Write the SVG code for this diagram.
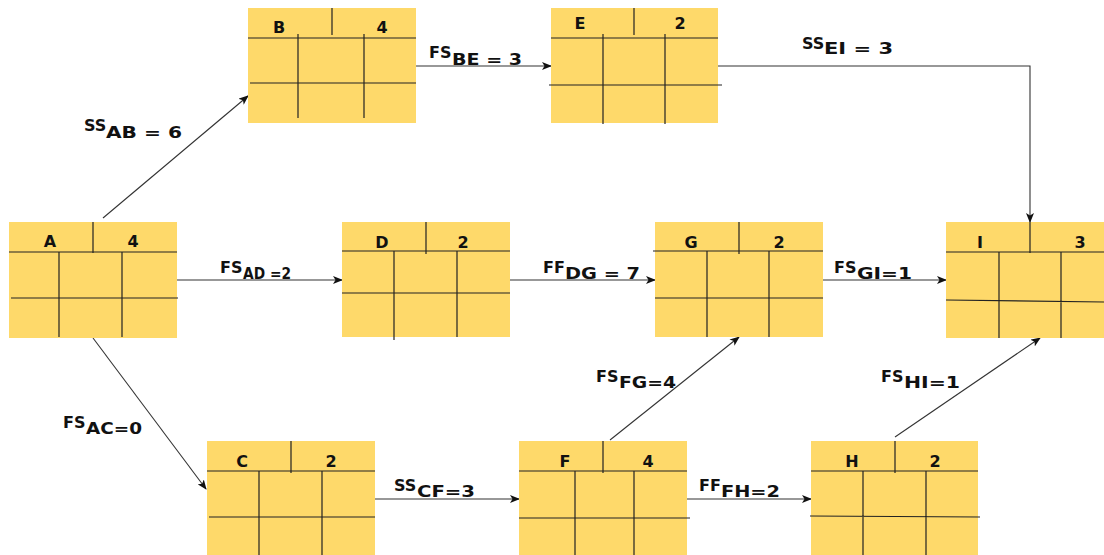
<svg xmlns="http://www.w3.org/2000/svg" width="1104" height="555" viewBox="0 0 1104 555">
<style>
.box{fill:#FED96A;stroke:none}
.g{stroke:#222;stroke-width:1.2;fill:none}
.t{font-family:"DejaVu Sans",Verdana,sans-serif;font-weight:bold;font-size:16px;fill:#111;text-anchor:middle}
.l{font-family:"DejaVu Sans",Verdana,sans-serif;font-weight:bold;font-size:16px;fill:#111}
.c{stroke:#333;stroke-width:1.1;fill:none;marker-end:url(#ah)}
</style>
<defs>
<marker id="ah" markerWidth="10" markerHeight="8" refX="9" refY="4" orient="auto" markerUnits="userSpaceOnUse">
<path d="M0,0 L10,4 L0,8 L2.5,4 Z" fill="#111"/>
</marker>
</defs>
<rect width="1104" height="555" fill="#fff"/>
<g id="connectors">
<path class="c" d="M103,218 L248,96"/>
<path class="c" d="M177,280 L342,280"/>
<path class="c" d="M93,338 L206,489"/>
<path class="c" d="M416,66 L551,66"/>
<path class="c" d="M718,66 L1030,66 L1030,222"/>
<path class="c" d="M510,280 L655,280"/>
<path class="c" d="M823,280 L946,280"/>
<path class="c" d="M375,499 L519,499"/>
<path class="c" d="M687,499 L811,499"/>
<path class="c" d="M610,440 L739,337"/>
<path class="c" d="M895,437 L1040,338"/>
</g>
<g id="nodeA">
<rect class="box" x="9" y="222" width="168" height="116"/>
<path class="g" d="M9,252 H177 M93,222 V253 M11,298 H178 M59,252 V337 M122,252 V337"/>
<text class="t" x="50" y="247">A</text><text class="t" x="133" y="247">4</text>
</g>
<g id="nodeB">
<rect class="box" x="248" y="8" width="168" height="115"/>
<path class="g" d="M248,38 H416 M332,8 V35 M250,83 H416 M298,34 V118 M364,34 V118"/>
<text class="t" x="279" y="33">B</text><text class="t" x="382" y="33">4</text>
</g>
<g id="nodeE">
<rect class="box" x="551" y="8" width="167" height="115"/>
<path class="g" d="M551,38 H718 M634,8 V35 M549,85 H722 M603,34 V124 M665,34 V124"/>
<text class="t" x="580" y="29">E</text><text class="t" x="680" y="29">2</text>
</g>
<g id="nodeD">
<rect class="box" x="342" y="222" width="168" height="115"/>
<path class="g" d="M342,251 H510 M426,222 V254 M342,293 H510 M394,251 V340 M457,251 V337"/>
<text class="t" x="382" y="248">D</text><text class="t" x="463" y="248">2</text>
</g>
<g id="nodeG">
<rect class="box" x="655" y="222" width="168" height="115"/>
<path class="g" d="M653,251 H823 M739,222 V254 M655,298 H823 M707,251 V337 M769,251 V337"/>
<text class="t" x="691" y="248">G</text><text class="t" x="779" y="248">2</text>
</g>
<g id="nodeI">
<rect class="box" x="946" y="222" width="158" height="116"/>
<path class="g" d="M946,252 H1104 M1030,222 V253 M946,300 L1104,302 M999,252 V338 M1061,252 V338"/>
<text class="t" x="980" y="248">I</text><text class="t" x="1080" y="248">3</text>
</g>
<g id="nodeC">
<rect class="box" x="207" y="441" width="168" height="114"/>
<path class="g" d="M207,471 H375 M291,441 V473 M209,517 H375 M259,471 V555 M322,471 V555"/>
<text class="t" x="242" y="467">C</text><text class="t" x="331" y="467">2</text>
</g>
<g id="nodeF">
<rect class="box" x="519" y="441" width="168" height="114"/>
<path class="g" d="M519,471 H687 M603,441 V473 M519,518 H690 M575,471 V555 M634,471 V555"/>
<text class="t" x="565" y="467">F</text><text class="t" x="648" y="467">4</text>
</g>
<g id="nodeH">
<rect class="box" x="811" y="441" width="167" height="114"/>
<path class="g" d="M811,471 H978 M895,441 V473 M810,516 L980,517 M863,471 V555 M926,471 V555"/>
<text class="t" x="852" y="467">H</text><text class="t" x="935" y="467">2</text>
</g>
<g id="labels">
<text class="l" x="84" y="131">SS</text>
<text class="l" x="106" y="138" textLength="76" lengthAdjust="spacingAndGlyphs">AB = 6</text>
<text class="l" x="429" y="58">FS</text>
<text class="l" x="452" y="65" textLength="70" lengthAdjust="spacingAndGlyphs">BE = 3</text>
<text class="l" x="802" y="49">SS</text>
<text class="l" x="824" y="54" textLength="69" lengthAdjust="spacingAndGlyphs">EI = 3</text>
<text class="l" x="220" y="273">FS</text>
<text class="l" x="243" y="279" textLength="48" lengthAdjust="spacingAndGlyphs">AD =2</text>
<text class="l" x="543" y="273">FF</text>
<text class="l" x="565" y="279" textLength="75" lengthAdjust="spacingAndGlyphs">DG = 7</text>
<text class="l" x="834" y="273">FS</text>
<text class="l" x="857" y="279" textLength="55" lengthAdjust="spacingAndGlyphs">GI=1</text>
<text class="l" x="63" y="428">FS</text>
<text class="l" x="86" y="434" textLength="56" lengthAdjust="spacingAndGlyphs">AC=0</text>
<text class="l" x="394" y="491">SS</text>
<text class="l" x="417" y="497" textLength="58" lengthAdjust="spacingAndGlyphs">CF=3</text>
<text class="l" x="699" y="491">FF</text>
<text class="l" x="721" y="497" textLength="59" lengthAdjust="spacingAndGlyphs">FH=2</text>
<text class="l" x="596" y="382">FS</text>
<text class="l" x="619" y="388" textLength="57" lengthAdjust="spacingAndGlyphs">FG=4</text>
<text class="l" x="881" y="382">FS</text>
<text class="l" x="904" y="388" textLength="56" lengthAdjust="spacingAndGlyphs">HI=1</text>
</g>
</svg>
